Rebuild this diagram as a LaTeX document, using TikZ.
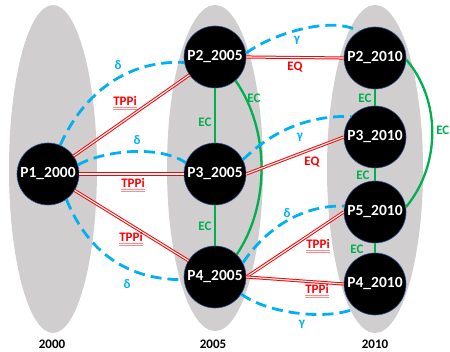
\documentclass[tikz,border=0pt]{standalone}
\usepackage{fontspec}
\setmainfont{Carlito}
\definecolor{ltblue}{HTML}{00B0F0}
\definecolor{ecgreen}{HTML}{00B050}
\definecolor{ellgray}{HTML}{D0CECE}
\definecolor{nodeedge}{HTML}{2F528F}
\newcommand\tppitext{\rlap{\textcolor{red!45}{\underline{\underline{\phantom{TPPi}}}}}TPPi}
\tikzset{
  ell/.style={fill=ellgray, draw=none},
  region/.style={circle, fill=black, draw=nodeedge, line width=0.6pt, minimum size=62pt, inner sep=0pt,
    text=white, font=\fontsize{15.5}{15.5}\selectfont\bfseries},
  redrel/.style={draw=red, double=white, double distance=1.1pt, line width=1pt},
  ecline/.style={draw=ecgreen, line width=2.3pt},
  dashrel/.style={draw=ltblue, line width=2.8pt, dash pattern=on 11pt off 6pt},
  lbl/.style={font=\fontsize{13}{13}\selectfont\bfseries, inner sep=1pt},
  redlbl/.style={lbl, text=red},
  eclbl/.style={lbl, text=ecgreen},
  bluelbl/.style={lbl, text=ltblue},
  yearlbl/.style={font=\fontsize{13}{13}\selectfont\bfseries, text=black}
}
\begin{document}
\begin{tikzpicture}[x=1pt, y=-1pt]
\useasboundingbox (0,0) rectangle (450,352);
\clip (0,0) rectangle (450,352);
% ellipses
\fill[ell] (53,169) ellipse [x radius=44, y radius=164];
\fill[ell] (215,168) ellipse [x radius=48, y radius=163];
\fill[ell] (375,169) ellipse [x radius=48, y radius=164];
% nodes
\node[region] (P1) at (48,174) {P1\_2000};
\node[region] (P2a) at (215,57) {P2\_2005};
\node[region] (P3a) at (215,174) {P3\_2005};
\node[region] (P4a) at (215,277) {P4\_2005};
\node[region] (P2b) at (375,58) {P2\_2010};
\node[region] (P3b) at (375,137) {P3\_2010};
\node[region] (P5b) at (375,212) {P5\_2010};
\node[region] (P4b) at (375,284) {P4\_2010};
% green EC lines
\draw[ecline] (P2a) -- (P3a);
\draw[ecline] (P3a) -- (P4a);
\draw[ecline] (P2a.-49) .. controls (270,130) and (270,205) .. (P4a.46);
\draw[ecline] (P2b) -- (P3b);
\draw[ecline] (P3b) -- (P5b);
\draw[ecline] (P5b) -- (P4b);
\draw[ecline] (P2b.-3) .. controls (441,100) and (441,165) .. (P5b.9);
% red relations
\draw[redrel] (P1) -- (P2a);
\draw[redrel] (P1.east) -- (P3a.west);
\draw[redrel] (P1) -- (P4a);
\draw[redrel] (P2a.east) -- (P2b.west);
\draw[redrel] (P3a.east) -- (P3b.west);
\draw[redrel] (P4a.east) -- (P5b.west);
\draw[redrel] (P4a.east) -- (P4b.west);
% blue dashed
\draw[dashrel] (P1.67) .. controls (85,90) and (130,60) .. (P2a.190);
\draw[dashrel] (P1.17) .. controls (105,150) and (160,145) .. (P3a.159);
\draw[dashrel] (P1.-54) .. controls (85,245) and (120,280) .. (P4a.185);
\draw[dashrel] (P2a.7) .. controls (270,35) and (330,15) .. (P2b.121);
\draw[dashrel] (P3a.27) .. controls (265,138) and (300,115) .. (P3b.139);
\draw[dashrel] (P4a.27) .. controls (265,230) and (300,205) .. (P5b.169);
\draw[dashrel] (P4a.-33) .. controls (270,315) and (330,320) .. (P4b.231);
% labels
\node[redlbl] (t1) at (125,103) {\tppitext};
\node[redlbl] (t2) at (133,185) {\tppitext};
\node[redlbl] (t3) at (131,239) {\tppitext};
\node[redlbl] (t4) at (318,246) {\tppitext};
\node[redlbl] (t5) at (317,291) {\tppitext};
\node[redlbl] (q1) at (295,67) {EQ};
\node[redlbl] (q2) at (312,162) {EQ};
\node[eclbl] (e1) at (205,122) {EC};
\node[eclbl] (e2) at (205,226) {EC};
\node[eclbl] (e3) at (254,98) {EC};
\node[eclbl] (e4) at (365,98) {EC};
\node[eclbl] (e5) at (363,175) {EC};
\node[eclbl] (e6) at (357,249) {EC};
\node[eclbl, anchor=east, inner sep=0.5pt] (e7) at (450,130) {EC};
\node[bluelbl] (d1) at (118,65) {δ};
\node[bluelbl] (d2) at (137,140) {δ};
\node[bluelbl] (d3) at (127,284) {δ};
\node[bluelbl] (d4) at (287,213) {δ};
\node[bluelbl] (g1) at (297,40) {γ};
\node[bluelbl] (g2) at (300,137) {γ};
\node[bluelbl] (g3) at (302,324) {γ};
\node[yearlbl] (y1) at (52,344) {2000};
\node[yearlbl] (y2) at (213,344) {2005};
\node[yearlbl] (y3) at (375,344) {2010};
\end{tikzpicture}
\end{document}
